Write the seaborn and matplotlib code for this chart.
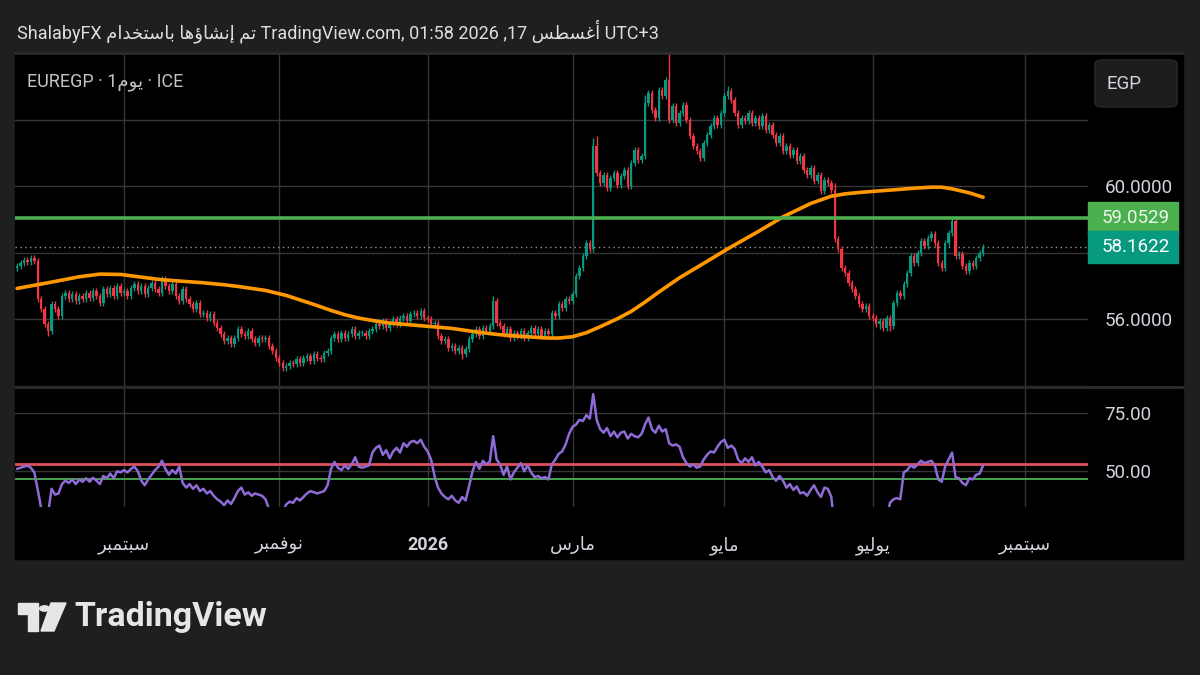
import numpy as np
import pandas as pd
import matplotlib.pyplot as plt
import seaborn as sns
from matplotlib.patches import Rectangle, FancyBboxPatch, Polygon, Circle
from matplotlib.transforms import blended_transform_factory

# ---- data ----
start_date = '2025-07-18'
closes = [
    57.60, 57.70, 57.78, 57.72, 57.85, 57.75, 56.60, 56.30, 55.85, 55.65,
    56.45, 56.30, 56.10, 56.70, 56.80, 56.60, 56.75, 56.55, 56.70, 56.60,
    56.80, 56.65, 56.85, 56.70, 56.50, 56.90, 56.75, 56.95, 56.70, 57.00,
    56.80, 56.85, 56.70, 56.95, 57.05, 56.85, 57.00, 56.75, 56.95, 57.10,
    56.90, 56.80, 57.20, 57.00, 56.85, 57.05, 56.70, 56.55, 56.90, 56.60,
    56.45, 56.30, 56.50, 56.15, 56.20, 56.05, 56.15, 55.90, 55.75, 55.55,
    55.35, 55.45, 55.25, 55.45, 55.70, 55.55, 55.50, 55.65, 55.40, 55.30,
    55.45, 55.40, 55.45, 55.20, 55.05, 54.85, 54.70, 54.55, 54.60, 54.70,
    54.65, 54.80, 54.70, 54.85, 54.90, 54.75, 54.95, 54.85, 54.80, 55.00,
    55.05, 55.45, 55.55, 55.40, 55.60, 55.45, 55.55, 55.70, 55.50, 55.60,
    55.60, 55.50, 55.65, 55.70, 55.85, 55.80, 55.95, 55.75, 55.90, 56.00,
    55.85, 56.05, 56.10, 55.95, 56.15, 56.20, 56.10, 56.25, 56.05, 56.00,
    55.85, 55.90, 55.50, 55.35, 55.40, 55.15, 55.20, 55.05, 55.15, 54.95,
    55.10, 55.40, 55.55, 55.70, 55.50, 55.75, 55.65, 55.80, 56.55, 55.90,
    55.80, 55.55, 55.70, 55.45, 55.60, 55.50, 55.65, 55.45, 55.60, 55.75,
    55.55, 55.70, 55.50, 55.65, 55.55, 56.20, 56.10, 56.45, 56.35, 56.60,
    56.55, 56.75, 57.30, 57.55, 57.90, 58.30, 58.10, 61.20, 60.40, 60.10,
    60.35, 59.95, 60.25, 60.40, 60.05, 60.30, 60.50, 60.00, 60.70, 61.10,
    60.80, 60.90, 62.50, 62.80, 62.30, 62.05, 62.90, 62.70, 63.20, 62.00,
    62.40, 61.90, 62.20, 62.45, 62.00, 61.50, 61.20, 61.05, 60.85, 61.30,
    61.55, 61.80, 62.05, 61.85, 62.20, 62.70, 62.85, 62.60, 62.20, 61.85,
    62.05, 61.95, 62.20, 61.90, 62.05, 61.80, 62.10, 61.70, 61.85, 61.55,
    61.30, 61.50, 61.05, 61.20, 60.95, 61.10, 60.75, 60.90, 60.50, 60.35,
    60.55, 60.15, 60.35, 59.85, 60.20, 60.10, 59.90, 58.40, 58.10, 57.55,
    57.40, 57.10, 56.90, 56.70, 56.45, 56.30, 56.40, 56.10, 56.05, 55.85,
    55.95, 55.75, 56.05, 55.80, 56.50, 56.80, 56.70, 57.05, 57.40, 57.90,
    57.70, 58.00, 58.35, 58.20, 58.45, 58.55, 58.30, 57.70, 57.55, 58.30,
    58.60, 58.95, 57.90, 57.95, 57.60, 57.45, 57.70, 57.60, 57.85, 58.00, 58.16,
]
first_open = 57.55
wick_pad = 0.09
long_highs = {43: 57.30, 138: 56.70, 167: 61.45, 168: 61.50, 182: 62.75,
              189: 64.00, 206: 63.00, 237: 60.10, 271: 59.10}
long_lows = {9: 55.50, 129: 54.80, 250: 55.70, 253: 55.65}

rsi = [
    51.0, 51.5, 52.0, 52.4, 51.5, 49.5, 42.0, 34.0, 33.0, 32.0,
    42.5, 40.0, 40.5, 44.5, 46.0, 45.0, 46.5, 44.5, 46.5, 45.5,
    47.0, 45.5, 47.2, 46.0, 44.5, 48.0, 47.0, 49.0, 47.0, 50.0,
    49.5, 50.5, 49.5, 51.0, 52.0, 50.0, 46.0, 44.0, 46.5, 48.5,
    50.5, 52.0, 54.5, 51.0, 48.5, 50.5, 49.0, 52.0, 45.0, 43.0,
    44.5, 42.5, 44.0, 41.5, 42.5, 40.5, 41.5, 39.5, 38.0, 37.0,
    35.5, 37.5, 36.0, 38.5, 41.5, 43.0, 40.0, 41.0, 39.5, 40.5,
    40.0, 39.5, 38.0, 34.0, 32.0, 31.0, 30.5, 32.5, 35.8, 37.0,
    36.5, 38.5, 37.5, 39.0, 40.5, 41.5, 41.0, 40.5, 41.0, 41.5,
    44.0, 51.0, 54.0, 51.5, 50.5, 52.5, 51.0, 53.0, 56.0, 52.0,
    51.5, 52.0, 52.5, 58.0, 60.0, 61.0, 57.0, 59.0, 55.5, 58.5,
    60.0, 58.0, 62.0, 60.5, 62.5, 63.0, 62.0, 63.5, 60.5, 58.5,
    55.0, 48.0, 43.0, 40.5, 39.0, 38.0, 39.5, 37.5, 36.5, 39.0,
    37.5, 43.5, 50.0, 54.0, 51.0, 54.5, 53.0, 54.0, 65.0, 55.0,
    53.0, 48.5, 52.0, 46.5, 49.5, 51.5, 53.5, 50.0, 52.5, 49.5,
    47.5, 48.0, 47.0, 47.5, 46.5, 53.0, 55.0, 57.5, 58.5, 61.5,
    66.0, 69.0, 70.0, 72.0, 71.5, 74.0, 72.5, 83.0, 72.0, 68.0,
    66.5, 68.5, 65.0, 67.0, 64.5, 66.5, 67.0, 64.0, 66.0, 65.0,
    64.5, 66.0, 70.0, 73.0, 68.0, 66.5, 69.5, 67.0, 68.0, 62.0,
    61.0, 61.5, 60.5, 56.0, 53.5, 52.0, 53.0, 51.5, 52.0, 55.0,
    57.0, 58.5, 58.0, 60.5, 62.5, 63.5, 60.0, 61.0, 59.5, 55.0,
    53.5, 55.5, 54.0, 56.0, 52.5, 54.0, 52.0, 49.5, 50.5, 47.5,
    46.0, 48.0, 46.0, 43.0, 44.5, 42.0, 43.5, 40.5, 41.0, 39.5,
    42.0, 44.0, 41.0, 39.0, 43.0, 42.5, 39.0, 25.0, 23.0, 20.0,
    19.0, 17.5, 16.5, 16.0, 15.0, 15.0, 17.0, 15.5, 15.5, 14.5,
    16.0, 15.0, 28.0, 36.5, 38.0, 38.5, 38.0, 49.5, 50.5, 52.5,
    51.5, 53.0, 54.5, 53.5, 54.0, 54.5, 52.5, 46.5, 45.5, 52.0,
    55.0, 58.0, 47.5, 47.0, 45.0, 44.0, 47.0, 46.5, 48.5, 49.0, 52.5,
]

# orange moving average, read at bar indices
ma_idx = [0, 9, 18, 24, 30, 36, 42, 54, 60, 64, 68, 72, 78, 86, 91, 95, 99,
          104, 108, 117, 126, 134, 140, 146, 154, 157, 161, 165, 169, 174, 178,
          182, 186, 192, 198, 206, 215, 222, 230, 236, 240, 244, 250, 254, 260,
          265, 268, 271, 276, 280]
ma_vals = [56.93, 57.10, 57.28, 57.36, 57.35, 57.27, 57.19, 57.10, 57.04, 56.99,
           56.93, 56.87, 56.72, 56.45, 56.27, 56.14, 56.04, 55.95, 55.89, 55.81,
           55.73, 55.61, 55.54, 55.49, 55.44, 55.44, 55.48, 55.60, 55.78, 56.02,
           56.24, 56.52, 56.82, 57.25, 57.62, 58.12, 58.65, 59.08, 59.48, 59.70,
           59.77, 59.81, 59.86, 59.89, 59.94, 59.97, 59.97, 59.92, 59.80, 59.67]

level_line = 59.0529
last_price = 58.1622
rsi_upper = 53.1
rsi_lower = 46.8

tick_months = ['2025-09', '2025-11', '2026-01', '2026-03', '2026-05', '2026-07', '2026-09']
tick_names = ['سبتمبر', 'نوفمبر', '2026', 'مارس', 'مايو', 'يوليو', 'سبتمبر']

# ---- minimal arabic shaping (matplotlib has no RTL support) ----
AR_FORMS = {
    'ا': ('\uFE8D', '\uFE8E', None, None), 'أ': ('\uFE83', '\uFE84', None, None),
    'إ': ('\uFE87', '\uFE88', None, None), 'ؤ': ('\uFE85', '\uFE86', None, None),
    'د': ('\uFEA9', '\uFEAA', None, None), 'ر': ('\uFEAD', '\uFEAE', None, None),
    'و': ('\uFEED', '\uFEEE', None, None),
    'ب': ('\uFE8F', '\uFE90', '\uFE91', '\uFE92'), 'ت': ('\uFE95', '\uFE96', '\uFE97', '\uFE98'),
    'خ': ('\uFEA5', '\uFEA6', '\uFEA7', '\uFEA8'), 'س': ('\uFEB1', '\uFEB2', '\uFEB3', '\uFEB4'),
    'ش': ('\uFEB5', '\uFEB6', '\uFEB7', '\uFEB8'), 'ط': ('\uFEC1', '\uFEC2', '\uFEC3', '\uFEC4'),
    'غ': ('\uFECD', '\uFECE', '\uFECF', '\uFED0'), 'ف': ('\uFED1', '\uFED2', '\uFED3', '\uFED4'),
    'ل': ('\uFEDD', '\uFEDE', '\uFEDF', '\uFEE0'), 'م': ('\uFEE1', '\uFEE2', '\uFEE3', '\uFEE4'),
    'ن': ('\uFEE5', '\uFEE6', '\uFEE7', '\uFEE8'), 'ه': ('\uFEE9', '\uFEEA', '\uFEEB', '\uFEEC'),
    'ي': ('\uFEF1', '\uFEF2', '\uFEF3', '\uFEF4'),
}


def ar(text):
    if not any(ch in AR_FORMS for ch in text):
        return text
    out = []
    for k, ch in enumerate(text):
        if ch not in AR_FORMS:
            out.append(ch)
            continue
        iso, fin, ini, med = AR_FORMS[ch]
        prev = text[k - 1] if k > 0 else ''
        nxt = text[k + 1] if k + 1 < len(text) else ''
        jp = prev in AR_FORMS and AR_FORMS[prev][2] is not None
        jn = ini is not None and nxt in AR_FORMS
        out.append(med if jp and jn else fin if jp else ini if jn else iso)
    return ''.join(out)[::-1]


# ---- style ----
sns.set_theme(style='dark')
FONT = ['Roboto', 'DejaVu Sans']
plt.rcParams['font.family'] = FONT
BG = '#1f1f1f'
GRID = '#363636'
TXT = '#d1d4dc'
UP, DOWN = '#089981', '#f23645'

W, H = 1200, 675
fig = plt.figure(figsize=(12, 6.75), dpi=100, facecolor=BG)


def frac(x0, y0, x1, y1):
    return [x0 / W, 1 - y1 / H, (x1 - x0) / W, (y1 - y0) / H]


# chart panel background
fig.add_artist(Rectangle((15 / W, 1 - 559 / H), 1168 / W, 506 / H,
                         transform=fig.transFigure, color='black', zorder=0))
for yy in (53, 387):
    fig.add_artist(plt.Line2D([15 / W, 1183 / W], [1 - yy / H] * 2,
                              transform=fig.transFigure, color='#2c2c2c', lw=2))

ax = fig.add_axes(frac(15, 53, 1088, 386))
ax_r = fig.add_axes(frac(15, 389, 1088, 507))

n = len(closes)
x = np.arange(n)
dates = pd.bdate_range(start_date, periods=312)
month_key = dates.strftime('%Y-%m')
tick_pos = [int(np.argmax(month_key == m)) for m in tick_months]

opens = [first_open] + closes[:-1]
df = pd.DataFrame({'x': x, 'open': opens, 'close': closes, 'rsi': rsi})
df['up'] = df['close'] >= df['open']
df['top'] = df[['open', 'close']].max(axis=1)
df['bot'] = df[['open', 'close']].min(axis=1)
df['high'] = df['top'] + wick_pad
df['low'] = df['bot'] - wick_pad
for k, v in long_highs.items():
    df.loc[k, 'high'] = v
for k, v in long_lows.items():
    df.loc[k, 'low'] = v
colors = np.where(df['up'], UP, DOWN)

for a in (ax, ax_r):
    a.set_facecolor('none')
    for s in a.spines.values():
        s.set_visible(False)
    a.set_xlim(-0.6, 310.4)
    a.set_xticks(tick_pos)
    a.grid(True, color=GRID, lw=1)
    a.set_axisbelow(True)
    a.yaxis.tick_right()
    a.tick_params(axis='both', length=0, labelcolor=TXT, labelsize=13.5, pad=12)

# candles
ax.vlines(df['x'], df['low'], df['high'], colors=colors, lw=1.0, zorder=2)
ax.bar(df['x'], np.maximum(df['top'] - df['bot'], 0.03), bottom=df['bot'],
       width=0.7, color=colors, zorder=3, linewidth=0)

sns.lineplot(x=ma_idx, y=ma_vals, ax=ax, color='#ff9800', lw=2.6, zorder=4)
ax.axhline(level_line, color='#4caf50', lw=2.6, zorder=5)
ax.axhline(last_price, color='#8a9a98', lw=1, ls=(0, (1, 2.5)), zorder=1)

ax.set_ylim(54.06, 64.0)
ax.set_yticks([54, 56, 58, 60, 62])
ax.set_yticklabels(['', '56.0000', '', '60.0000', ''])
ax.set_xticklabels([])
ax.set_xlabel('')
ax.set_ylabel('')

# price tags on the price scale
tr = blended_transform_factory(ax.transAxes, ax.transData)
for val, col, tcol in ((level_line, '#4caf50', '#eaf6ea'), (last_price, '#089981', '#ffffff')):
    ax.add_patch(Rectangle((1.0, val - 0.48), 0.0839, 0.96, transform=tr,
                           color=col, clip_on=False, zorder=6))
    ax.text(1.0125, val, f'{val:.4f}', transform=tr, ha='left', va='center',
            color=tcol, fontsize=13.5, zorder=7, clip_on=False)

# RSI pane
sns.lineplot(data=df, x='x', y='rsi', ax=ax_r, color='#8e6bd6', lw=1.8,
             sort=False, estimator=None, zorder=4)
ax_r.axhline(rsi_upper, color='#e0505c', lw=2, zorder=3)
ax_r.axhline(rsi_lower, color='#4caf50', lw=1.3, zorder=3)
ax_r.set_ylim(34.7, 85.2)
ax_r.set_yticks([50, 75])
ax_r.set_yticklabels(['50.00', '75.00'])
ax_r.set_xticklabels([ar(t) for t in tick_names])
ax_r.tick_params(axis='x', pad=21, labelsize=13)
for lab in ax_r.get_xticklabels():
    if lab.get_text() == '2026':
        lab.set_fontweight('bold')
ax_r.set_xlabel('')
ax_r.set_ylabel('')

# header, legend, currency box
header = ('ShalabyFX ' + ar('تم إنشاؤها باستخدام') + ' TradingView.com, 01:58 2026 ,17 '
          + ar('أغسطس') + ' UTC+3')
fig.text(17 / W, 1 - 31 / H, header, color='#dedede', fontsize=13, va='center', ha='left')
fig.text(27 / W, 1 - 82 / H, 'EUREGP · 1' + ar('يوم') + ' · ICE', color='#c4c4c4',
         fontsize=13, va='center', ha='left')
fig.add_artist(FancyBboxPatch((1095 / W, 1 - 107 / H), 82 / W, 47 / H,
                              boxstyle='round,pad=0,rounding_size=0.006',
                              transform=fig.transFigure, facecolor='#1c1c1c',
                              edgecolor='#2a2a2a', lw=1))
fig.text(1107 / W, 1 - 84 / H, 'EGP', color=TXT, fontsize=13.5, va='center', ha='left')

# TradingView logo
logo = '#e6e6e6'
fig.add_artist(Polygon([(18 / W, 1 - 603 / H), (38 / W, 1 - 603 / H), (38 / W, 1 - 631 / H),
                        (28 / W, 1 - 631 / H), (28 / W, 1 - 614 / H), (18 / W, 1 - 614 / H)],
                       closed=True, transform=fig.transFigure, color=logo))
fig.add_artist(Circle((44.5 / W, 1 - 608.5 / H), 4.8 / W, transform=fig.transFigure, color=logo))
fig.add_artist(Polygon([(51 / W, 1 - 603 / H), (66 / W, 1 - 603 / H), (54 / W, 1 - 631 / H),
                        (41 / W, 1 - 631 / H)], closed=True, transform=fig.transFigure, color=logo))
fig.text(74 / W, 1 - 617 / H, 'TradingView', color=logo, fontsize=24.5, fontweight='bold',
         va='center', ha='left')

fig.savefig('out.png', dpi=100, facecolor=BG)
